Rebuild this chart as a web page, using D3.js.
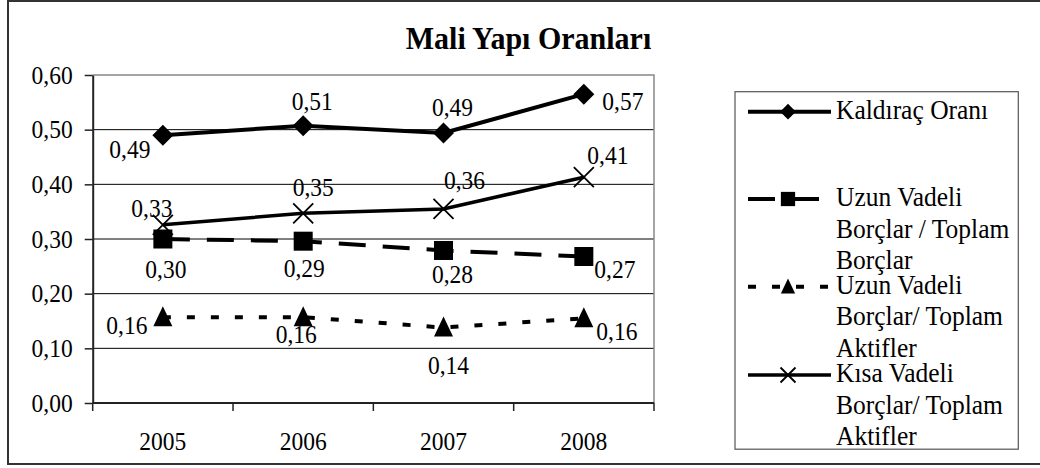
<!DOCTYPE html>
<html>
<head>
<meta charset="utf-8">
<script src="https://cdn.jsdelivr.net/npm/d3@7"></script>
<style>
  body { margin: 0; background: #fff; }
  svg { display: block; }
  svg text { font-family: "Liberation Serif", "Times New Roman", Times, serif; }
</style>
</head>
<body>
<svg id="chart" width="1040" height="468"></svg>
<script>
const years = ['2005', '2006', '2007', '2008'];
const yTicks = [0, 0.1, 0.2, 0.3, 0.4, 0.5, 0.6];

const kaldiracOrani = [0.490, 0.507, 0.494, 0.565];
const uzunToplamBorclar = [0.300, 0.296, 0.279, 0.268];
const uzunToplamAktifler = [0.157, 0.157, 0.138, 0.155];
const kisaToplamAktifler = [0.326, 0.347, 0.355, 0.413];

const kaldiracLabels = ['0,49', '0,51', '0,49', '0,57'];
const uzunBorcLabels = ['0,30', '0,29', '0,28', '0,27'];
const uzunAktifLabels = ['0,16', '0,16', '0,14', '0,16'];
const kisaAktifLabels = ['0,33', '0,35', '0,36', '0,41'];

// where each data label sits relative to its marker (manual Excel placement)
const kaldiracOffsets = [[-33, 23], [9, -16], [9, -17], [39, 16]];
const uzunBorcOffsets = [[3, 39], [1, 36], [9, 33], [31, 22]];
const uzunAktifOffsets = [[-36, 17], [-7, 26], [5, 46], [33, 22]];
const kisaAktifOffsets = [[-11, -8], [10, -17], [21, -20], [24, -13]];

const series = [
    { name: ['Kaldıraç Oranı'], values: kaldiracOrani, labels: kaldiracLabels, offsets: kaldiracOffsets,
      marker: 'diamond', dash: null, width: 4, legendY: 111.7 },
    { name: ['Uzun Vadeli', 'Borçlar / Toplam', 'Borçlar'], values: uzunToplamBorclar, labels: uzunBorcLabels, offsets: uzunBorcOffsets,
      marker: 'square', dash: '27,17', width: 4, legendY: 199 },
    { name: ['Uzun Vadeli', 'Borçlar/ Toplam', 'Aktifler'], values: uzunToplamAktifler, labels: uzunAktifLabels, offsets: uzunAktifOffsets,
      marker: 'triangle', dash: '8,16', width: 4, legendY: 286.7 },
    { name: ['Kısa Vadeli', 'Borçlar/ Toplam', 'Aktifler'], values: kisaToplamAktifler, labels: kisaAktifLabels, offsets: kisaAktifOffsets,
      marker: 'cross', dash: null, width: 3.5, legendY: 375 },
];

const plot = { left: 92.7, right: 654, top: 75, bottom: 403 };
// the source picture's text is a little taller than it is wide
const textStretch = 1.07;
const legendStretch = 1.1;
const svg = d3.select('#chart');

// place a text at (px, py) with a slight vertical stretch around its baseline
function placeText(sel, px, py, k) {
    return sel.attr('x', 0).attr('y', 0)
        .attr('transform', (d, i) => `translate(${px(d, i)},${py(d, i)}) scale(1,${k})`);
}

// outer frame
svg.append('rect')
    .attr('x', 8).attr('y', 1)
    .attr('width', 1040).attr('height', 463)
    .attr('fill', 'none').attr('stroke', '#333').attr('stroke-width', 2);

placeText(svg.append('text'), () => 528.5, () => 49, 1.06)
    .attr('text-anchor', 'middle')
    .attr('font-size', 30).attr('font-weight', 'bold')
    .text('Mali Yapı Oranları');

const x = d3.scaleBand().domain(years).range([plot.left, plot.right]).padding(0);
const y = d3.scaleLinear().domain([0, 0.6]).range([plot.bottom, plot.top]);
const cx = d => x(d) + x.bandwidth() / 2;
const fmt = v => d3.format('.2f')(v).replace('.', ',');

// gridlines
svg.append('g')
    .selectAll('line')
    .data(yTicks.filter(t => t > 0 && t < 0.6))
    .join('line')
    .attr('x1', plot.left).attr('x2', plot.right)
    .attr('y1', d => y(d)).attr('y2', d => y(d))
    .attr('stroke', '#000').attr('stroke-width', 1);

// plot area border (top & right)
svg.append('path')
    .attr('d', `M${plot.left},${plot.top}H${plot.right}V${plot.bottom}`)
    .attr('fill', 'none').attr('stroke', '#888').attr('stroke-width', 1.5);

// y axis
const yAxis = svg.append('g')
    .attr('transform', `translate(${plot.left},0)`)
    .call(d3.axisLeft(y).tickValues(yTicks).tickFormat(fmt).tickSize(8).tickSizeOuter(0).tickPadding(12));
yAxis.attr('font-family', null).attr('font-size', null);
yAxis.select('.domain').attr('stroke', '#222').attr('stroke-width', 2);
yAxis.selectAll('.tick line').attr('stroke', '#222').attr('stroke-width', 1.5);
yAxis.selectAll('.tick text')
    .attr('font-size', 23.5).attr('fill', '#000')
    .attr('dy', null).attr('y', 0)
    .attr('transform', `translate(0,8) scale(1,${textStretch})`);

// x axis (ticks between categories, like Excel)
const xAxis = svg.append('g');
xAxis.append('line')
    .attr('x1', plot.left).attr('x2', plot.right)
    .attr('y1', plot.bottom).attr('y2', plot.bottom)
    .attr('stroke', '#222').attr('stroke-width', 2);
xAxis.selectAll('line.tick')
    .data(years.map(d => x(d)).concat([x.range()[1]]))
    .join('line')
    .attr('class', 'tick')
    .attr('x1', d => d).attr('x2', d => d)
    .attr('y1', plot.bottom).attr('y2', plot.bottom + 8)
    .attr('stroke', '#222').attr('stroke-width', 1.5);
placeText(xAxis.selectAll('text').data(years).join('text'), cx, () => 450, textStretch)
    .attr('text-anchor', 'middle')
    .attr('font-size', 23.5)
    .text(d => d);

function drawMarker(g, type, scale) {
    const s = scale;
    if (type === 'diamond') {
        g.append('path').attr('d', `M0,${-10.5 * s}L${10.5 * s},0L0,${10.5 * s}L${-10.5 * s},0Z`).attr('fill', '#000');
    } else if (type === 'square') {
        g.append('rect').attr('x', -9.5 * s).attr('y', -9.5 * s)
            .attr('width', 19 * s).attr('height', 19 * s).attr('fill', '#000');
    } else if (type === 'triangle') {
        g.append('path').attr('d', `M0,${-11 * s}L${9.5 * s},${9 * s}L${-9.5 * s},${9 * s}Z`).attr('fill', '#000');
    } else {
        g.append('path').attr('d', `M${-10 * s},${-10 * s}L${10 * s},${10 * s}M${10 * s},${-10 * s}L${-10 * s},${10 * s}`)
            .attr('stroke', '#000').attr('stroke-width', 1.8).attr('fill', 'none');
    }
}

const line = d3.line().x((d, i) => cx(years[i])).y(d => y(d));

for (const s of series) {
    const g = svg.append('g');
    g.append('path')
        .attr('d', line(s.values))
        .attr('fill', 'none')
        .attr('stroke', '#000')
        .attr('stroke-width', s.width)
        .attr('stroke-dasharray', s.dash);
    s.values.forEach((v, i) => {
        const m = g.append('g').attr('transform', `translate(${cx(years[i])},${y(v)})`);
        drawMarker(m, s.marker, 1);
    });
    placeText(g.selectAll('text').data(s.values).join('text'),
        (d, i) => cx(years[i]) + s.offsets[i][0],
        (d, i) => y(d) + s.offsets[i][1],
        textStretch)
        .attr('text-anchor', 'middle')
        .attr('font-size', 23.5)
        .text((d, i) => s.labels[i]);
}

// legend
const legend = svg.append('g');
legend.append('rect')
    .attr('x', 735).attr('y', 91.7)
    .attr('width', 283.3).attr('height', 357.5)
    .attr('fill', '#fff').attr('stroke', '#555').attr('stroke-width', 1.2);

for (const s of series) {
    const item = legend.append('g');
    item.append('line')
        .attr('x1', 748).attr('x2', 831)
        .attr('y1', s.legendY).attr('y2', s.legendY)
        .attr('stroke', '#000').attr('stroke-width', s.width)
        .attr('stroke-dasharray', s.dash);
    const m = item.append('g').attr('transform', `translate(788,${s.legendY})`);
    drawMarker(m, s.marker, 0.75);
    placeText(item.selectAll('text').data(s.name).join('text'),
        () => 836,
        (d, i) => s.legendY + 7 + i * 31.7,
        legendStretch)
        .attr('font-size', 25.5)
        .text(d => d);
}
</script>
</body>
</html>
